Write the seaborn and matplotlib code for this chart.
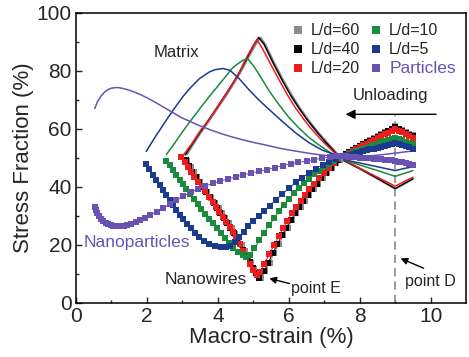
import matplotlib
matplotlib.use("Agg")
import matplotlib.pyplot as plt
from matplotlib.lines import Line2D
import seaborn as sns

sns.set_style("ticks")
plt.rcParams['font.family'] = ['Liberation Sans', 'DejaVu Sans']

# ---------------- data ----------------
labels = ["L/d=60", "L/d=40", "L/d=20", "L/d=10", "L/d=5", "Particles"]
colors = ["#8c8c8c", "#000000", "#ee1c1c", "#1a8a3c", "#1c3a8e", "#6a52b3"]

# nanowire / nanoparticle stress fraction (markers)
gray_nw_x = [9.5, 9.4, 9.3, 9.2, 9.1, 9.0, 8.9, 8.8, 8.7, 8.6, 8.5, 8.4, 8.3, 8.2, 8.1, 8.0, 7.9, 7.8, 7.7, 7.6, 7.5,
             7.44, 7.34, 7.22, 7.09, 6.96, 6.83, 6.7, 6.57, 6.45, 6.33, 6.21, 6.09, 5.97, 5.85, 5.72, 5.59, 5.46, 5.34, 5.21,
             5.12, 5.03, 4.94, 4.85, 4.76, 4.67, 4.58, 4.49, 4.39, 4.3, 4.2, 4.11, 4.02, 3.92, 3.81, 3.7, 3.6, 3.5, 3.41, 3.32, 3.23, 3.14]
gray_nw_y = [57.7, 58.3, 58.9, 59.5, 60.1, 60.8, 60.1, 59.4, 58.8, 58.1, 57.4, 56.8, 56.1, 55.4, 54.8, 54.1, 53.4, 52.8, 52.1, 51.4, 50.7,
             49.4, 48.1, 46.5, 44.8, 43.0, 41.1, 39.1, 37.1, 35.1, 33.0, 30.8, 28.4, 25.9, 23.2, 20.3, 17.1, 13.8, 10.8, 8.4,
             10.0, 11.8, 13.8, 15.9, 18.0, 20.0, 21.9, 23.8, 25.7, 27.4, 29.2, 30.9, 32.6, 34.4, 36.3, 38.2, 39.9, 41.7, 43.4, 45.1, 46.9, 49.0]

black_nw_x = [9.5, 9.4, 9.3, 9.2, 9.1, 9.0, 8.9, 8.8, 8.7, 8.6, 8.5, 8.4, 8.3, 8.2, 8.1, 8.0, 7.9, 7.8, 7.7, 7.6, 7.5,
              7.4, 7.3, 7.18, 7.05, 6.92, 6.79, 6.66, 6.53, 6.41, 6.29, 6.17, 6.05, 5.93, 5.81, 5.68, 5.55, 5.42, 5.3, 5.17,
              5.08, 4.99, 4.9, 4.81, 4.72, 4.63, 4.54, 4.45, 4.35, 4.26, 4.16, 4.07, 3.98, 3.88, 3.77, 3.66, 3.56, 3.46, 3.37, 3.28, 3.19, 3.1]
black_nw_y = [57.4, 58.0, 58.6, 59.2, 59.8, 60.5, 59.8, 59.2, 58.5, 57.9, 57.2, 56.6, 55.9, 55.3, 54.6, 54.0, 53.3, 52.7, 52.0, 51.3, 50.6,
              49.4, 48.1, 46.5, 44.8, 43.0, 41.1, 39.1, 37.1, 35.1, 33.0, 30.8, 28.4, 25.9, 23.2, 20.3, 17.1, 13.8, 10.8, 8.6,
              10.2, 12.0, 14.0, 16.1, 18.2, 20.2, 22.1, 23.9, 25.8, 27.5, 29.3, 31.0, 32.7, 34.5, 36.4, 38.3, 40.0, 41.8, 43.5, 45.2, 47.0, 49.1]

red_nw_x = [9.5, 9.4, 9.3, 9.2, 9.1, 9.0, 8.9, 8.8, 8.7, 8.6, 8.5, 8.4, 8.3, 8.2, 8.1, 8.0, 7.9, 7.8, 7.7, 7.6, 7.5,
            7.4, 7.28, 7.13, 7.0, 6.85, 6.71, 6.57, 6.45, 6.33, 6.2, 6.08, 5.96, 5.84, 5.72, 5.59, 5.45, 5.31, 5.19, 5.1,
            5.0, 4.9, 4.8, 4.7, 4.61, 4.51, 4.42, 4.33, 4.23, 4.14, 4.04, 3.95, 3.86, 3.76, 3.65, 3.54, 3.44, 3.34, 3.25, 3.15, 3.06, 2.97]
red_nw_y = [57.0, 57.6, 58.2, 58.8, 59.4, 60.0, 59.4, 58.7, 58.1, 57.5, 56.8, 56.2, 55.6, 54.9, 54.3, 53.7, 53.0, 52.4, 51.8, 51.1, 50.5,
            49.5, 48.2, 46.5, 44.9, 43.0, 41.1, 39.1, 37.2, 35.2, 33.0, 30.8, 28.3, 25.7, 23.0, 20.0, 16.8, 13.4, 10.6, 9.5,
            11.4, 13.4, 15.7, 18.0, 20.3, 22.6, 24.4, 26.1, 27.9, 29.6, 31.4, 33.1, 34.8, 36.6, 38.4, 40.1, 41.8, 43.5, 45.2, 46.9, 48.6, 50.2]

green_nw_x = [9.5, 9.4, 9.3, 9.2, 9.1, 9.0, 8.9, 8.8, 8.7, 8.6, 8.5, 8.4, 8.3, 8.2, 8.1, 8.0, 7.9, 7.8, 7.7, 7.6, 7.5,
              7.38, 7.25, 7.13, 7.0, 6.85, 6.71, 6.57, 6.43, 6.29, 6.15, 6.01, 5.87, 5.73, 5.59, 5.45, 5.31, 5.17, 5.03, 4.9, 4.8,
              4.7, 4.56, 4.42, 4.3, 4.19, 4.08, 3.97, 3.86, 3.75, 3.64, 3.53, 3.43, 3.32, 3.21, 3.11, 3.01, 2.92, 2.83, 2.74, 2.64, 2.55]
green_nw_y = [54.6, 55.1, 55.6, 56.1, 56.6, 57.0, 56.6, 56.1, 55.7, 55.3, 54.8, 54.4, 53.9, 53.5, 53.1, 52.7, 52.2, 51.8, 51.3, 50.9, 50.5,
              49.8, 48.9, 47.9, 46.9, 45.6, 44.3, 42.8, 41.2, 39.6, 37.8, 35.9, 33.8, 31.6, 29.2, 26.8, 24.2, 21.5, 18.8, 16.4, 15.8,
              16.4, 17.6, 18.9, 20.6, 22.4, 24.0, 25.7, 27.4, 29.0, 30.7, 32.4, 34.1, 35.8, 37.5, 39.2, 40.9, 42.5, 44.1, 45.7, 47.4, 49.0]

blue_nw_x = [9.5, 9.4, 9.3, 9.2, 9.1, 9.0, 8.9, 8.8, 8.7, 8.6, 8.5, 8.4, 8.3, 8.2, 8.1, 8.0, 7.9, 7.8, 7.7, 7.6, 7.5,
             7.32, 7.14, 6.95, 6.76, 6.57, 6.38, 6.2, 6.01, 5.82, 5.64, 5.46, 5.3, 5.15, 5.0, 4.86, 4.73, 4.6, 4.47, 4.35,
             4.22, 4.08, 3.92, 3.76, 3.62, 3.48, 3.35, 3.23, 3.12, 3.02, 2.92, 2.83, 2.73, 2.64, 2.55, 2.45, 2.36, 2.26, 2.16, 2.07, 1.98]
blue_nw_y = [53.2, 53.6, 54.0, 54.3, 54.7, 55.0, 54.7, 54.4, 54.1, 53.8, 53.5, 53.2, 52.9, 52.6, 52.3, 52.0, 51.7, 51.4, 51.1, 50.8, 50.5,
             49.7, 48.7, 47.6, 46.3, 44.8, 43.2, 41.5, 39.6, 37.5, 35.5, 33.5, 31.7, 30.0, 28.2, 26.3, 24.5, 22.7, 20.9, 19.7,
             19.3, 19.3, 19.6, 20.4, 21.4, 22.7, 24.2, 25.8, 27.3, 28.8, 30.4, 32.0, 33.6, 35.3, 37.0, 38.8, 40.5, 42.3, 44.1, 46.0, 47.9]

part_np_x = [0.53, 0.56, 0.6, 0.65, 0.7, 0.77, 0.84, 0.91, 0.98, 1.05, 1.12, 1.19, 1.27, 1.35, 1.45, 1.56, 1.68, 1.8, 1.94,
             2.1, 2.27, 2.45, 2.64, 2.83, 3.03, 3.25, 3.45, 3.65, 3.86, 4.07, 4.29, 4.51, 4.72, 4.93, 5.15, 5.38, 5.6, 5.83,
             6.05, 6.27, 6.5, 6.72, 6.94, 7.15, 7.33, 7.5, 7.6, 7.7, 7.8, 7.9, 8.0, 8.1, 8.2, 8.3, 8.4, 8.5, 8.6, 8.7, 8.8,
             8.9, 9.0, 9.1, 9.2, 9.3, 9.4, 9.5]
part_np_y = [33.1, 32.0, 30.8, 29.8, 29.0, 28.2, 27.5, 27.0, 26.7, 26.5, 26.4, 26.3, 26.3, 26.5, 26.8, 27.2, 27.8, 28.5, 29.3,
             30.3, 31.4, 32.6, 34.0, 35.4, 36.8, 38.2, 39.3, 40.3, 41.2, 42.0, 42.7, 43.4, 44.1, 44.7, 45.3, 45.9, 46.6, 47.3,
             47.9, 48.4, 48.9, 49.4, 49.9, 50.3, 50.5, 50.6, 50.5, 50.4, 50.3, 50.2, 50.1, 50.0, 49.9, 49.8, 49.7, 49.6, 49.5,
             49.4, 49.3, 49.1, 49.0, 48.7, 48.4, 48.1, 47.8, 47.5]

# matrix stress fraction (thin lines)
gray_mx_x = [9.5, 9.25, 9.0, 8.5, 8.0, 7.5, 7.34, 7.09, 6.83, 6.57, 6.33, 6.09, 5.85, 5.59, 5.34, 5.2, 5.05, 4.85, 4.67,
             4.49, 4.3, 4.11, 3.92, 3.7, 3.5, 3.32, 3.13]
gray_mx_y = [42.6, 40.9, 39.2, 42.7, 46.1, 49.3, 51.9, 55.2, 58.9, 62.9, 67.0, 71.6, 76.8, 82.9, 89.2, 91.6, 88.6, 84.2, 80.0,
             76.3, 72.6, 69.1, 65.6, 61.7, 58.2, 54.8, 51.0]
black_mx_x = [9.5, 9.25, 9.0, 8.5, 8.0, 7.5, 7.3, 7.05, 6.79, 6.53, 6.29, 6.05, 5.81, 5.55, 5.3, 5.15, 5.0, 4.81, 4.63,
              4.45, 4.26, 4.07, 3.88, 3.66, 3.46, 3.28, 3.08]
black_mx_y = [42.8, 41.1, 39.4, 42.9, 46.3, 49.4, 51.9, 55.2, 58.9, 62.9, 67.0, 71.6, 76.8, 82.9, 89.2, 91.5, 88.6, 84.2, 80.0,
              76.3, 72.6, 69.1, 65.6, 61.7, 58.2, 54.8, 51.0]
red_mx_x = [9.5, 9.25, 9.0, 8.5, 8.0, 7.5, 7.28, 7.0, 6.71, 6.45, 6.2, 5.96, 5.72, 5.45, 5.25, 5.1, 4.98, 4.79, 4.61, 4.42,
            4.23, 4.04, 3.76, 3.53, 3.25, 2.97]
red_mx_y = [43.3, 41.8, 40.2, 43.3, 46.4, 49.6, 51.8, 55.1, 58.9, 62.8, 67.0, 71.7, 77.0, 83.2, 87.8, 90.8, 88.4, 84.2, 79.6,
            75.6, 72.0, 68.5, 63.3, 59.8, 54.6, 50.0]
green_mx_x = [9.5, 9.25, 9.0, 8.5, 8.0, 7.5, 7.13, 6.85, 6.57, 6.29, 6.01, 5.73, 5.45, 5.17, 5.0, 4.84, 4.7, 4.56, 4.42,
              4.19, 3.97, 3.75, 3.53, 3.32, 3.11, 2.92, 2.74, 2.55]
green_mx_y = [45.6, 44.6, 43.6, 45.6, 47.5, 49.5, 52.1, 54.4, 57.0, 60.2, 63.8, 68.2, 73.0, 78.6, 81.8, 84.2, 83.6, 82.4, 81.1,
              77.6, 74.3, 71.0, 67.6, 64.2, 60.8, 57.5, 54.3, 51.2]
blue_mx_x = [9.5, 9.25, 9.0, 8.5, 8.0, 7.5, 7.27, 6.95, 6.57, 6.2, 5.82, 5.46, 5.15, 4.86, 4.6, 4.35, 4.15, 3.92, 3.76,
             3.48, 3.23, 3.02, 2.83, 2.64, 2.45, 2.26, 2.07, 1.98]
blue_mx_y = [46.9, 46.3, 45.6, 46.9, 48.2, 49.5, 51.2, 52.6, 55.2, 58.5, 62.5, 66.5, 70.0, 73.7, 77.3, 80.1, 80.8, 80.4, 79.6,
             77.3, 74.2, 71.2, 68.0, 64.7, 61.2, 57.7, 54.0, 52.2]
part_mx_x = [0.53, 0.6, 0.7, 0.8, 0.9, 1.0, 1.1, 1.2, 1.3, 1.45, 1.6, 1.8, 2.0, 2.2, 2.45, 2.7, 2.95, 3.2, 3.5, 3.8, 4.1,
             4.4, 4.7, 5.0, 5.35, 5.7, 6.0, 6.3, 6.6, 6.9, 7.2, 7.5, 8.0, 8.5, 9.0, 9.5]
part_mx_y = [67.0, 69.2, 71.2, 72.6, 73.5, 74.0, 74.2, 74.2, 74.0, 73.5, 72.9, 71.9, 70.7, 69.4, 67.6, 65.8, 64.0, 62.6, 61.0,
             59.6, 58.3, 57.2, 56.2, 55.3, 54.4, 53.4, 52.7, 52.1, 51.5, 51.0, 50.6, 50.0, 50.4, 50.9, 51.6, 52.4]

nw_series = [(gray_nw_x, gray_nw_y), (black_nw_x, black_nw_y), (red_nw_x, red_nw_y),
             (green_nw_x, green_nw_y), (blue_nw_x, blue_nw_y), (part_np_x, part_np_y)]
mx_series = [(gray_mx_x, gray_mx_y), (black_mx_x, black_mx_y), (red_mx_x, red_mx_y),
             (green_mx_x, green_mx_y), (blue_mx_x, blue_mx_y), (part_mx_x, part_mx_y)]

# ---------------- figure ----------------
fig = plt.figure(figsize=(4.69, 3.57), dpi=100)
ax = fig.add_axes([0.162, 0.152, 0.832, 0.812])

for i, ((mx, my), col) in enumerate(zip(mx_series, colors)):
    sns.lineplot(x=mx, y=my, sort=False, estimator=None, color=col,
                 linewidth=1.1, ax=ax, zorder=2 + i * 0.1)

for i, ((nx, ny), col) in enumerate(zip(nw_series, colors)):
    sns.lineplot(x=nx, y=ny, sort=False, estimator=None, color=col,
                 linewidth=0.7, marker='s', markersize=3.8, markeredgewidth=0,
                 ax=ax, zorder=3 + i * 0.1)

# dashed line at point D
ax.axvline(9.0, ymin=0, ymax=0.65, color='#8a8a8a', lw=1.2, ls=(0, (5, 3)), zorder=1)

ax.set_xlim(0, 11)
ax.set_ylim(0, 100)
ax.set_xticks([0, 2, 4, 6, 8, 10])
ax.set_xticks([1, 3, 5, 7, 9], minor=True)
ax.set_yticks([0, 20, 40, 60, 80, 100])
ax.set_yticks([10, 30, 50, 70, 90], minor=True)
ax.tick_params(which='major', direction='in', length=4.5, width=1.0, labelsize=15, pad=3)
ax.tick_params(which='minor', direction='in', length=2.5, width=1.0)
for s in ax.spines.values():
    s.set_linewidth(1.1)
    s.set_color('black')

ax.set_xlabel("Macro-strain (%)", fontsize=16, labelpad=1)
ax.set_ylabel("Stress Fraction (%)", fontsize=16, labelpad=2)

# annotations
ax.text(2.82, 86.2, "Matrix", fontsize=12, ha='center', va='center')
ax.text(8.86, 71.6, "Unloading", fontsize=12, ha='center', va='center')
ax.text(1.73, 20.7, "Nanoparticles", fontsize=12.5, ha='center', va='center', color=colors[5])
ax.text(3.67, 8.1, "Nanowires", fontsize=12.5, ha='center', va='center')
ax.text(6.77, 5.0, "point E", fontsize=11.5, ha='center', va='center')
ax.text(9.99, 7.2, "point D", fontsize=11.5, ha='center', va='center')

ax.annotate("", xy=(7.6, 65), xytext=(10.15, 65),
            arrowprops=dict(arrowstyle='-|>', color='k', lw=1.0, mutation_scale=14, shrinkA=0, shrinkB=0))
ax.annotate("", xy=(5.45, 8.4), xytext=(6.02, 6.6),
            arrowprops=dict(arrowstyle='-|>', color='k', lw=1.0, mutation_scale=10, shrinkA=0, shrinkB=0))
ax.annotate("", xy=(9.15, 15.3), xytext=(9.8, 11.9),
            arrowprops=dict(arrowstyle='-|>', color='k', lw=1.0, mutation_scale=10, shrinkA=0, shrinkB=0))

# legend
handles = [Line2D([], [], marker='s', ls='none', color=c, markersize=5.5, markeredgewidth=0) for c in colors]
leg = ax.legend(handles, labels, ncol=2, loc='upper right', bbox_to_anchor=(1.0, 1.0), frameon=False,
                fontsize=11.5, handlelength=0.6, handletextpad=0.5, columnspacing=0.7,
                labelspacing=0.25, borderaxespad=0.25)
for t in leg.get_texts():
    if t.get_text() == "Particles":
        t.set_color(colors[5])
        t.set_fontsize(12.5)

fig.savefig("out.png", dpi=100)
